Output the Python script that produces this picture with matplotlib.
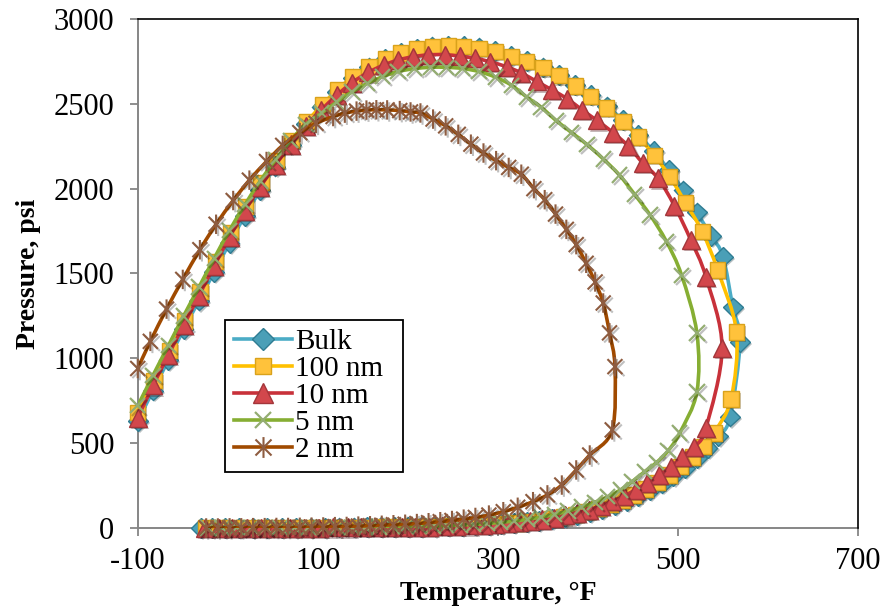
import matplotlib
matplotlib.use("Agg")
import matplotlib.pyplot as plt
import matplotlib.patheffects as pe
from matplotlib.lines import Line2D
from matplotlib.path import Path
from matplotlib.patches import PathPatch

plt.rcParams['font.family'] = ['Liberation Serif', 'DejaVu Serif']
plt.rcParams['axes.unicode_minus'] = False

# ---- data (T in degF, P in psi) ----
# each envelope: upper branch left->right, then lower branch right->left
bulk_up_t = [-100, -83, -66, -49, -32, -15, 2, 19, 36, 53, 70, 87, 104, 121, 139, 157, 175, 192, 210, 227,
             245, 262, 279, 297, 315, 332, 350, 368, 386, 403, 421, 439, 456, 473, 490, 506, 521, 537, 550, 561, 569]
bulk_up_p = [630, 810, 990, 1170, 1340, 1510, 1680, 1840, 1990, 2130, 2260, 2380, 2480, 2570, 2650, 2715, 2765, 2800, 2825, 2838,
             2842, 2840, 2832, 2812, 2784, 2752, 2714, 2670, 2612, 2553, 2485, 2405, 2318, 2220, 2110, 1990, 1860, 1720, 1600, 1300, 1098]
bulk_lo_t = [558, 545, 533, 521, 508, 495, 482, 469, 456, 443, 430, 416, 402, 388, 374, 360, 346, 332, 318, 304,
             290, 275, 260, 245, 230, 215, 200, 185, 170, 155, 140, 124, 108, 92, 76, 60, 44, 28, 12, -3, -17, -30]
bulk_lo_p = [656, 540, 470, 410, 355, 305, 262, 223, 190, 160, 135, 112, 93, 77, 63, 52, 43, 35, 29, 24,
             19, 15, 12, 10, 8, 7, 6, 5, 4, 4, 3, 3, 2, 2, 2, 1, 1, 1, 1, 0, 0, 0]

nm100_up_t = [-100, -82, -65, -48, -31, -14, 3, 20, 37, 54, 71, 88, 105, 122, 139, 157, 175, 192, 210, 227,
              245, 262, 279, 297, 315, 332, 350, 368, 386, 403, 421, 439, 456, 474, 491, 508, 527, 544, 565]
nm100_up_p = [680, 870, 1045, 1220, 1395, 1570, 1740, 1895, 2035, 2165, 2285, 2395, 2495, 2585, 2660, 2720, 2765, 2800, 2825, 2837,
              2840, 2837, 2828, 2808, 2780, 2748, 2712, 2665, 2605, 2545, 2475, 2395, 2305, 2195, 2070, 1920, 1746, 1521, 1155]
nm100_lo_t = [559, 540, 528, 516, 503, 490, 477, 464, 451, 438, 425, 412, 399, 386, 373, 360, 347, 334, 321, 308,
              295, 280, 265, 250, 235, 220, 205, 190, 175, 160, 145, 130, 114, 98, 82, 66, 50, 34, 18, 2, -12, -25]
nm100_lo_p = [760, 560, 480, 418, 362, 312, 268, 229, 195, 165, 139, 116, 97, 80, 66, 55, 45, 37, 30, 25,
              20, 16, 13, 11, 9, 8, 7, 6, 5, 4, 4, 3, 3, 2, 2, 2, 1, 1, 1, 1, 0, 0]

nm10_up_t = [-100, -83, -66, -49, -32, -15, 2, 19, 36, 53, 70, 87, 104, 121, 138, 156, 173, 189, 206, 222,
             241, 258, 275, 291, 310, 326, 343, 360, 377, 393, 410, 428, 445, 461, 478, 496, 514, 531, 549]
nm10_up_p = [650, 840, 1020, 1195, 1370, 1545, 1715, 1870, 2010, 2140, 2260, 2370, 2465, 2550, 2625, 2685, 2728, 2758, 2778, 2788,
             2790, 2780, 2768, 2748, 2718, 2682, 2632, 2582, 2530, 2466, 2402, 2330, 2250, 2150, 2060, 1900, 1700, 1480, 1061]
nm10_lo_t = [531, 518, 505, 492, 479, 466, 453, 440, 427, 414, 401, 388, 375, 362, 349, 336, 323, 310, 297, 283,
             268, 253, 238, 223, 208, 193, 178, 163, 148, 133, 117, 101, 85, 69, 53, 37, 21, 5, -10, -25]
nm10_lo_p = [589, 480, 420, 362, 313, 267, 226, 188, 157, 130, 108, 90, 74, 61, 50, 41, 34, 28, 23, 18,
             15, 12, 10, 8, 7, 6, 5, 4, 4, 3, 3, 2, 2, 2, 1, 1, 1, 1, 0, 0]

nm5_up_t = [-100, -83, -66, -49, -32, -15, 2, 19, 36, 53, 70, 87, 104, 121, 138, 155, 172, 189, 207, 225,
            243, 261, 279, 297, 315, 332, 348, 365, 382, 399, 417, 435, 452, 469, 487, 504, 521]
nm5_up_p = [720, 900, 1075, 1250, 1420, 1590, 1755, 1905, 2045, 2170, 2285, 2380, 2445, 2510, 2570, 2620, 2660, 2690, 2707, 2715,
            2715, 2708, 2690, 2658, 2610, 2540, 2480, 2400, 2330, 2260, 2175, 2080, 1965, 1845, 1690, 1490, 1149]
nm5_lo_t = [521, 502, 489, 476, 463, 449, 436, 422, 408, 393, 378, 363, 348, 333, 318, 303, 288, 273, 258, 243,
            228, 213, 198, 183, 168, 153, 138, 122, 106, 90, 74, 58, 42, 26, 10, -6, -22]
nm5_lo_p = [802, 560, 455, 385, 332, 273, 224, 184, 152, 124, 100, 80, 64, 51, 41, 33, 26, 21, 17, 14,
            11, 9, 8, 7, 6, 5, 4, 3, 3, 2, 2, 2, 1, 1, 1, 0, 0]

nm2_up_t = [-100, -86, -68, -50, -31, -13, 6, 24, 43, 61, 80, 98, 117, 130, 143, 154, 165, 177, 191, 203,
            214, 228, 242, 256, 270, 284, 298, 312, 326, 340, 352, 364, 376, 387, 398, 408, 417, 424, 430]
nm2_up_p = [940, 1100, 1290, 1465, 1640, 1790, 1930, 2050, 2160, 2255, 2330, 2385, 2425, 2445, 2457, 2463, 2465, 2464, 2460, 2452,
            2446, 2410, 2370, 2320, 2262, 2210, 2165, 2125, 2085, 2000, 1935, 1850, 1760, 1670, 1560, 1450, 1326, 1150, 951]
nm2_lo_t = [427, 402, 387, 371, 355, 339, 322, 306, 290, 275, 262, 249, 236, 223, 210, 197, 184, 171, 158, 145,
            132, 119, 106, 93, 80, 67, 54, 41, 28, 15, 2, -11, -24]
nm2_lo_p = [578, 430, 342, 253, 195, 155, 122, 96, 76, 62, 52, 44, 37, 31, 26, 22, 19, 16, 13, 11,
            9, 8, 6, 5, 4, 3, 3, 2, 2, 1, 1, 0, 0]

labels = ["Bulk", "100 nm", "10 nm", "5 nm", "2 nm"]
x_ticks = [-100, 100, 300, 500, 700]
y_ticks = [0, 500, 1000, 1500, 2000, 2500, 3000]

# excel-like asterisk marker (x with a vertical bar)
star = Path([(-1, -1), (1, 1), (-1, 1), (1, -1), (0, -1.3), (0, 1.3)],
            [Path.MOVETO, Path.LINETO, Path.MOVETO, Path.LINETO, Path.MOVETO, Path.LINETO])

styles = [
    dict(line="#4BACC6", marker="D", ms=10, mfc="#4A9FB7", mec="#2F7C92", mew=1.0),
    dict(line="#FFC000", marker="s", ms=11, mfc="#FFC23B", mec="#D9A21B", mew=1.0),
    dict(line="#C8313A", marker="^", ms=13, mfc="#D2474C", mec="#A3363A", mew=1.0),
    dict(line="#86AE33", marker="x", ms=11, mfc="none", mec="#94AD72", mew=1.6),
    dict(line="#A04A00", marker=star, ms=14, mfc="none", mec="#8E5C40", mew=1.5),
]
series = [
    (bulk_up_t + bulk_lo_t, bulk_up_p + bulk_lo_p),
    (nm100_up_t + nm100_lo_t, nm100_up_p + nm100_lo_p),
    (nm10_up_t + nm10_lo_t, nm10_up_p + nm10_lo_p),
    (nm5_up_t + nm5_lo_t, nm5_up_p + nm5_lo_p),
    (nm2_up_t + nm2_lo_t, nm2_up_p + nm2_lo_p),
]


def smooth_path(t, p):
    # excel style "smoothed line": cubic bezier through the points (catmull-rom)
    pts = list(zip(t, p))
    n = len(pts)
    verts = [pts[0]]
    codes = [Path.MOVETO]
    for i in range(n - 1):
        p0 = pts[max(i - 1, 0)]
        p1 = pts[i]
        p2 = pts[i + 1]
        p3 = pts[min(i + 2, n - 1)]
        c1 = (p1[0] + (p2[0] - p0[0]) / 6, p1[1] + (p2[1] - p0[1]) / 6)
        c2 = (p2[0] - (p3[0] - p1[0]) / 6, p2[1] - (p3[1] - p1[1]) / 6)
        verts += [c1, c2, p2]
        codes += [Path.CURVE4] * 3
    return Path(verts, codes)


fig = plt.figure(figsize=(8.95, 6.14), dpi=100)
ax = fig.add_axes([0.1539, 0.1401, 0.8048, 0.8290])

handles = []
for (t, p), st, lab in zip(series, styles, labels):
    ax.add_patch(PathPatch(smooth_path(t, p), fill=False, edgecolor=st["line"], lw=2.6,
                           capstyle="round", joinstyle="round", zorder=2))
    if st["mfc"] == "none":
        shadow = [pe.SimpleLineShadow(offset=(1.5, -1.5), alpha=0.25), pe.Normal()]
    else:
        shadow = [pe.SimplePatchShadow(offset=(1.5, -1.5), alpha=0.3), pe.Normal()]
    ax.plot(t, p, ls="none", marker=st["marker"], ms=st["ms"], mfc=st["mfc"],
            mec=st["mec"], mew=st["mew"], path_effects=shadow, zorder=2, clip_on=False)
    handles.append(Line2D([], [], color=st["line"], lw=2.6, marker=st["marker"], ms=st["ms"] + 1,
                          mfc=st["mfc"], mec=st["mec"], mew=st["mew"]))

ax.set_xlim(-100, 700)
ax.set_ylim(0, 3000)
ax.set_xticks(x_ticks)
ax.set_yticks(y_ticks)

for side in ["top", "right"]:
    ax.spines[side].set_color("black")
    ax.spines[side].set_linewidth(1.2)
for side in ["left", "bottom"]:
    ax.spines[side].set_color("#868686")
    ax.spines[side].set_linewidth(1.4)
ax.spines["left"].set_zorder(1)
ax.spines["bottom"].set_zorder(1)

ax.tick_params(direction="out", length=6, width=1.3, color="#868686", labelsize=22)
ax.tick_params(axis="y", pad=11)
ax.tick_params(axis="x", pad=8)

ax.set_xlabel("Temperature, °F", fontsize=20, fontweight="bold", labelpad=3)
ax.set_ylabel("Pressure, psi", fontsize=20, fontweight="bold", labelpad=9)

leg = ax.legend(handles, labels, loc="upper left", bbox_to_anchor=(0.121, 0.108, 0.247, 0.301),
                bbox_transform=ax.transAxes, mode="expand", borderaxespad=0, fontsize=21,
                fancybox=False, frameon=True, edgecolor="black", framealpha=1,
                handlelength=2.0, handletextpad=0.1, labelspacing=0.02,
                borderpad=0.3)
leg.get_frame().set_linewidth(1.3)

fig.savefig("out.png", dpi=100)
